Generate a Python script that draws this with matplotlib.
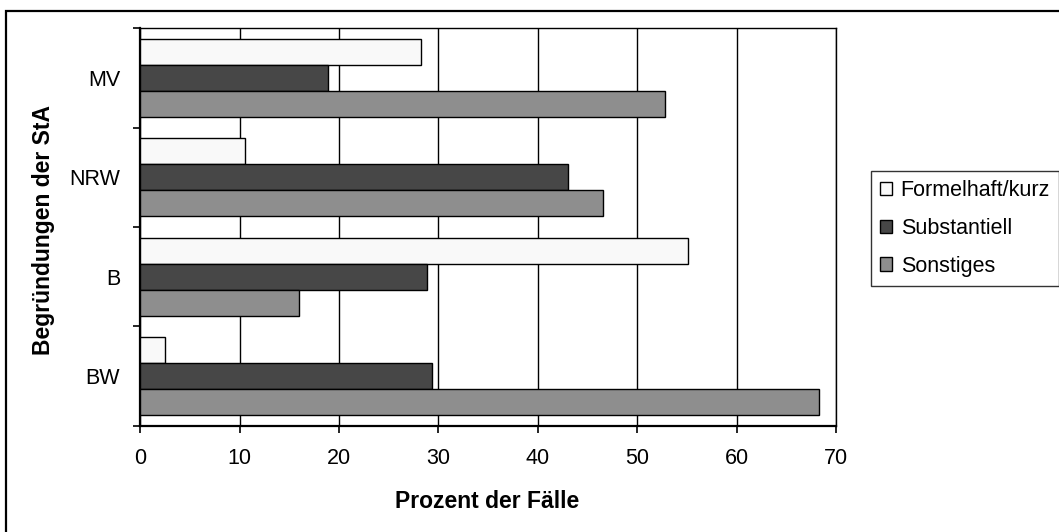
import matplotlib
matplotlib.use("Agg")
import matplotlib.pyplot as plt
from matplotlib.patches import Rectangle, Patch
import numpy as np

plt.rcParams['font.family'] = ['Liberation Sans', 'DejaVu Sans']

categories = ["BW", "B", "NRW", "MV"]
series_names = ["Formelhaft/kurz", "Substantiell", "Sonstiges"]
formelhaft = [2.5, 55.1, 10.5, 28.2]
substantiell = [29.4, 28.8, 43.0, 18.9]
sonstiges = [68.3, 16.0, 46.6, 52.8]
x_ticks = [0, 10, 20, 30, 40, 50, 60, 70]

colors = ["#F9F9F9", "#474747", "#8E8E8E"]

W, H = 1059, 532
fig = plt.figure(figsize=(W / 100, H / 100), dpi=100)
ax = fig.add_axes([140.3 / W, 1 - 425.7 / H, (836 - 140.3) / W, (425.7 - 28.3) / H])

y = np.arange(len(categories))
h = 0.262
offsets = [h, 0, -h]
for vals, off, c, name in zip([formelhaft, substantiell, sonstiges], offsets, colors, series_names):
    ax.barh(y + off, vals, height=h, color=c, edgecolor="black", linewidth=1.0, zorder=3, label=name)

ax.set_xlim(0, 70)
ax.set_ylim(-0.5, len(categories) - 0.5)
ax.set_xticks(x_ticks)
ax.set_xticklabels([str(t) for t in x_ticks], fontsize=15.5)
ax.set_yticks(y)
ax.set_yticklabels(categories, fontsize=15.5)
ax.tick_params(axis='y', which='major', length=0, pad=14.5)
ax.set_yticks(np.arange(-0.5, len(categories), 1.0), minor=True)
ax.tick_params(axis='y', which='minor', length=5, width=1.2, direction='out')
ax.tick_params(axis='x', which='major', length=5, width=1.2, direction='out', pad=11)

ax.grid(axis='x', color='black', linewidth=1.0, zorder=0)
ax.set_axisbelow(True)
for s in ['left', 'bottom']:
    ax.spines[s].set_linewidth(1.6)
for s in ['top', 'right']:
    ax.spines[s].set_linewidth(1.0)

fig.text(44 / W, 1 - 230 / H, "Begründungen der StA", rotation=90, fontsize=16.5,
         fontweight='bold', ha='center', va='center')
fig.text(487 / W, 1 - 501 / H, "Prozent der Fälle", fontsize=16.5,
         fontweight='bold', ha='center', va='center')

# outer border (top and left visible)
fig.patches.append(Rectangle((5.9 / W, -0.1), 1.2, 1 - 11 / H + 0.1, transform=fig.transFigure,
                             fill=False, edgecolor='black', linewidth=1.6))

handles = [Patch(facecolor=c, edgecolor='black', linewidth=1.0) for c in colors]
leg = fig.legend(handles, series_names, loc='upper left',
                 bbox_to_anchor=(871 / W, 1 - 171 / H), bbox_transform=fig.transFigure,
                 fontsize=15.5, frameon=True, fancybox=False, edgecolor='black',
                 handlelength=0.56, handleheight=0.56, handletextpad=0.4,
                 labelspacing=0.78, borderpad=0.42, borderaxespad=0)
leg.get_frame().set_linewidth(1.0)

fig.savefig("out.png", dpi=100)
